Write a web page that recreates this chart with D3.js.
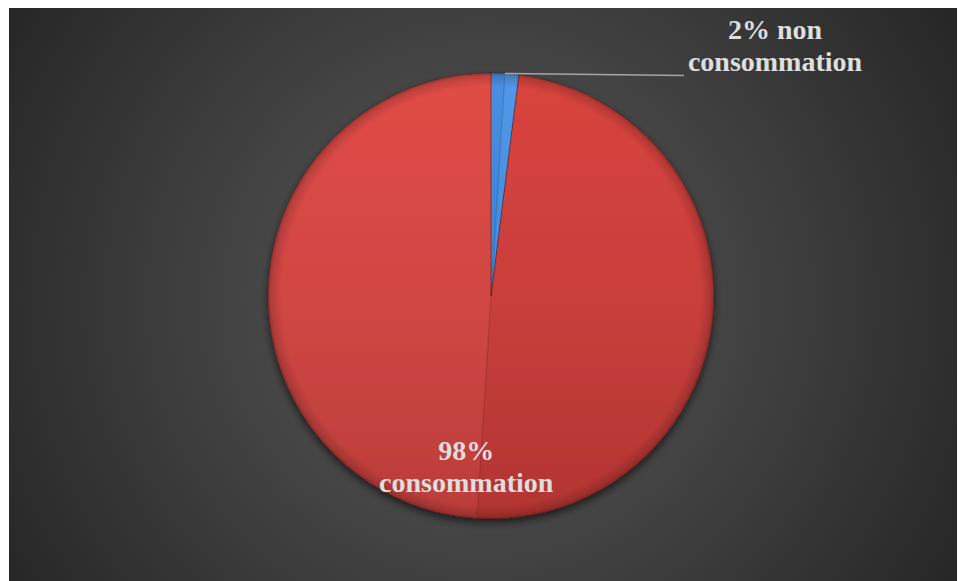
<!DOCTYPE html>
<html>
<head>
<meta charset="utf-8">
<script src="https://cdn.jsdelivr.net/npm/d3@7"></script>
<style>
  html, body { margin: 0; padding: 0; background: #ffffff; }
  svg { display: block; }
</style>
</head>
<body>
<svg id="chart" width="958" height="581"></svg>
<script>
// Share of consumption
const categories = ["non consommation", "consommation"];
const values = [2, 98];
const labelLines = [["2% non", "consommation"], ["98%", "consommation"]];
const sliceColors = ["#3c86dc", "#d0423e"];
const sliceColorsLight = ["#4d95e8", "#e0463f"];
const sliceColorsDark = ["#2e6cc0", "#b83633"];

const W = 958, H = 581;
const svg = d3.select("#chart");
const defs = svg.append("defs");

// Chart area background: dark radial glow
const bg = defs.append("radialGradient").attr("id", "bgGrad")
  .attr("gradientUnits", "userSpaceOnUse")
  .attr("cx", 480).attr("cy", 300).attr("r", 560);
bg.append("stop").attr("offset", "0").attr("stop-color", "#5a5a5a");
bg.append("stop").attr("offset", "0.55").attr("stop-color", "#3e3e3e");
bg.append("stop").attr("offset", "1").attr("stop-color", "#262626");

svg.append("rect")
  .attr("x", 9).attr("y", 8).attr("width", W - 10).attr("height", H - 8)
  .attr("fill", "url(#bgGrad)");

const cx = 491, cy = 296, R = 223;

// Shadow under the pie
const shadow = defs.append("filter").attr("id", "pieShadow")
  .attr("x", "-20%").attr("y", "-20%").attr("width", "140%").attr("height", "140%");
shadow.append("feGaussianBlur").attr("in", "SourceAlpha").attr("stdDeviation", 4);
shadow.append("feOffset").attr("dx", 0).attr("dy", 4).attr("result", "b");
shadow.append("feComponentTransfer").append("feFuncA").attr("type", "linear").attr("slope", 0.6);
const merge = shadow.append("feMerge");
merge.append("feMergeNode");
merge.append("feMergeNode").attr("in", "SourceGraphic");

// Per-slice vertical shading (coordinates local to the pie group)
categories.forEach((c, i) => {
  const g = defs.append("linearGradient").attr("id", "slice" + i)
    .attr("gradientUnits", "userSpaceOnUse")
    .attr("x1", 0).attr("y1", -R).attr("x2", 0).attr("y2", R);
  g.append("stop").attr("offset", "0").attr("stop-color", sliceColorsLight[i]);
  g.append("stop").attr("offset", "0.5").attr("stop-color", sliceColors[i]);
  g.append("stop").attr("offset", "1").attr("stop-color", sliceColorsDark[i]);
});

// Bevel: darkening toward the rim
const rim = defs.append("radialGradient").attr("id", "rimGrad")
  .attr("gradientUnits", "userSpaceOnUse")
  .attr("cx", 0).attr("cy", 0).attr("r", R);
rim.append("stop").attr("offset", "0.94").attr("stop-color", "#000").attr("stop-opacity", 0);
rim.append("stop").attr("offset", "0.985").attr("stop-color", "#000").attr("stop-opacity", 0.15);
rim.append("stop").attr("offset", "1").attr("stop-color", "#000").attr("stop-opacity", 0.3);

const pie = d3.pie().sort(null).value(d => d)(values);
const arc = d3.arc().innerRadius(0).outerRadius(R);

const pieG = svg.append("g").attr("transform", `translate(${cx},${cy})`);
const slices = pieG.append("g").attr("filter", "url(#pieShadow)");

slices.selectAll("path.slice").data(pie).join("path")
  .attr("class", "slice")
  .attr("d", arc)
  .attr("fill", (d, i) => `url(#slice${i})`);

// Facet shading: each slice split along its bisector
pie.forEach((d, i) => {
  const mid = (d.startAngle + d.endAngle) / 2;
  pieG.append("path")
    .attr("d", arc({ startAngle: mid, endAngle: d.endAngle }))
    .attr("fill", "#ffffff").attr("fill-opacity", 0.03);
  pieG.append("path")
    .attr("d", arc({ startAngle: d.startAngle, endAngle: mid }))
    .attr("fill", "#000000").attr("fill-opacity", 0.03);
  pieG.append("line")
    .attr("x1", 0).attr("y1", 0)
    .attr("x2", Math.sin(mid) * (R - 4)).attr("y2", -Math.cos(mid) * (R - 4))
    .attr("stroke", "#000").attr("stroke-opacity", 0.12).attr("stroke-width", 1.5);
});

// Rim bevel overlay
pieG.append("circle").attr("r", R).attr("fill", "url(#rimGrad)");

// Slice edges
pieG.selectAll("path.edge").data(pie).join("path")
  .attr("class", "edge")
  .attr("d", arc)
  .attr("fill", "none")
  .attr("stroke", "#000").attr("stroke-opacity", 0.2).attr("stroke-width", 1);

// Labels
const textColor = "#dedede";
const font = "'Liberation Serif', 'Times New Roman', serif";

// Small slice: leader line to an outside label
{
  const d = pie[0];
  const mid = (d.startAngle + d.endAngle) / 2;
  const px = cx + Math.sin(mid) * R, py = cy - Math.cos(mid) * R;
  const lx = 684, ly = py + 2;
  svg.append("line")
    .attr("x1", px).attr("y1", py).attr("x2", lx).attr("y2", ly)
    .attr("stroke", "#a6a6a6").attr("stroke-width", 1.5);
  const t = svg.append("text")
    .attr("x", 775).attr("y", 39)
    .attr("text-anchor", "middle")
    .attr("font-family", font).attr("font-weight", "bold").attr("font-size", 28)
    .attr("fill", textColor);
  labelLines[0].forEach((s, k) => {
    t.append("tspan").attr("x", 775).attr("dy", k === 0 ? 0 : 32).text(s);
  });
}

// Large slice: label inside, near the rim
{
  const d = pie[1];
  const mid = (d.startAngle + d.endAngle) / 2;
  const lr = R * 0.77;
  const ax = cx + Math.sin(mid) * lr - 14;
  const ay = cy - Math.cos(mid) * lr - 7;
  const t = svg.append("text")
    .attr("x", ax).attr("y", ay)
    .attr("text-anchor", "middle")
    .attr("font-family", font).attr("font-weight", "bold").attr("font-size", 28)
    .attr("fill", textColor);
  labelLines[1].forEach((s, k) => {
    t.append("tspan").attr("x", ax).attr("dy", k === 0 ? 0 : 32).text(s);
  });
}
</script>
</body>
</html>
